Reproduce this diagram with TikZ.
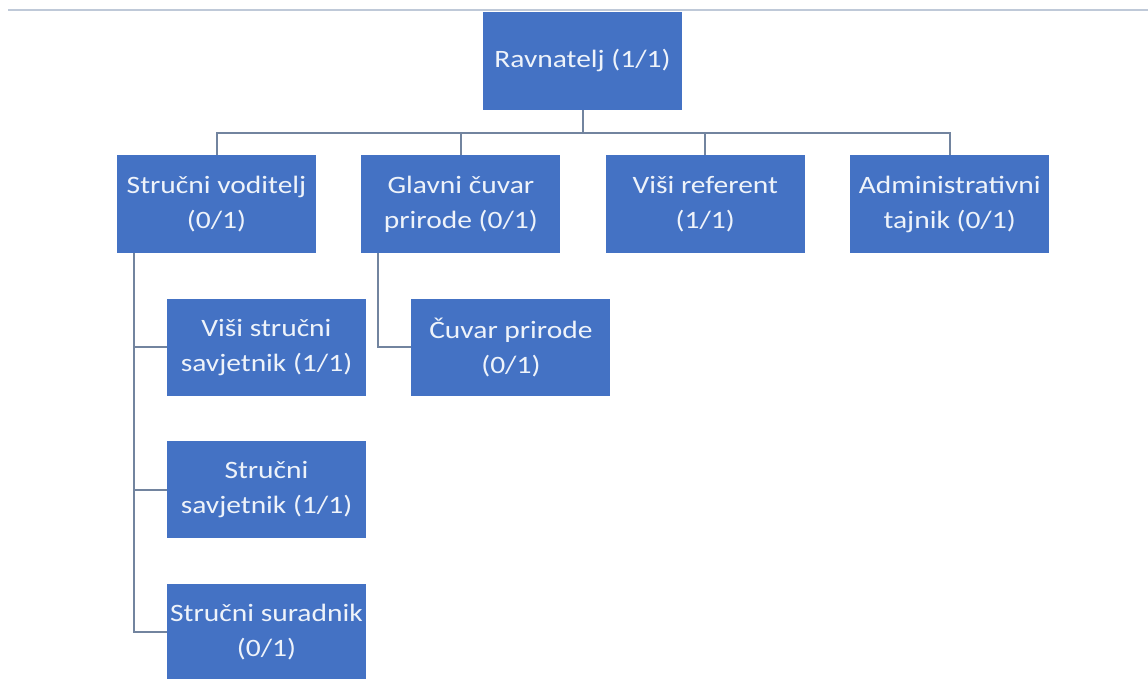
\documentclass[tikz,border=0pt]{standalone}
\usepackage{fontspec}
\setmainfont{Carlito}[FakeStretch=1.18]
\usepackage{tikz}
\usetikzlibrary{positioning,calc}
\definecolor{unitblue}{HTML}{4472C4}
\definecolor{linkgray}{HTML}{72849F}
\definecolor{rulegray}{HTML}{BFC9D8}
\definecolor{textwhite}{HTML}{EEF3FA}

\begin{document}
\begin{tikzpicture}[
    x=1pt, y=-1pt,
    node distance=45pt,
    unit/.style={rectangle, fill=unitblue, text=textwhite, minimum width=199pt, minimum height=97pt, inner sep=0pt, align=center, font=\fontsize{25}{35}\selectfont},
    link/.style={draw=linkgray, line width=2pt}
]
    \useasboundingbox (0,0) rectangle (1148,679);
    % top rule
    \draw[rulegray, line width=1.5pt] (8,10) -- (1148,10);

    % Director
    \node[unit, minimum height=98pt] (rav) at (582.5,61) {Ravnatelj (1/1)};

    % Second level
    \node[unit] (sv) at (216.5,204) {Stručni voditelj\\(0/1)};
    \node[unit, right=of sv] (gc) {Glavni čuvar\\prirode (0/1)};
    \node[unit, right=of gc] (vr) {Viši referent\\(1/1)};
    \node[unit, right=of vr] (adm) {Administrativni\\tajnik (0/1)};

    % Third level
    \node[unit, below=46pt of sv, xshift=50pt] (vss) {Viši stručni\\savjetnik (1/1)};
    \node[unit, below=45pt of vss] (ss) {Stručni\\savjetnik (1/1)};
    \node[unit, below=45pt of ss] (sur) {Stručni suradnik\\(0/1)};
    \node[unit, below=46pt of gc, xshift=50pt] (cp) {Čuvar prirode\\(0/1)};

    % Connectors
    \coordinate (bus) at ($(rav.south)+(0,23)$);
    \draw[link] (rav.south) -- (bus);
    \foreach \n in {sv,gc,vr,adm} \draw[link] (bus) -| (\n.north);

    \coordinate (svdrop) at ($(sv.south west)+(17,0)$);
    \foreach \n in {vss,ss,sur} \draw[link] (svdrop) |- (\n.west);
    \coordinate (gcdrop) at ($(gc.south west)+(17,0)$);
    \draw[link] (gcdrop) |- (cp.west);
\end{tikzpicture}
\end{document}
